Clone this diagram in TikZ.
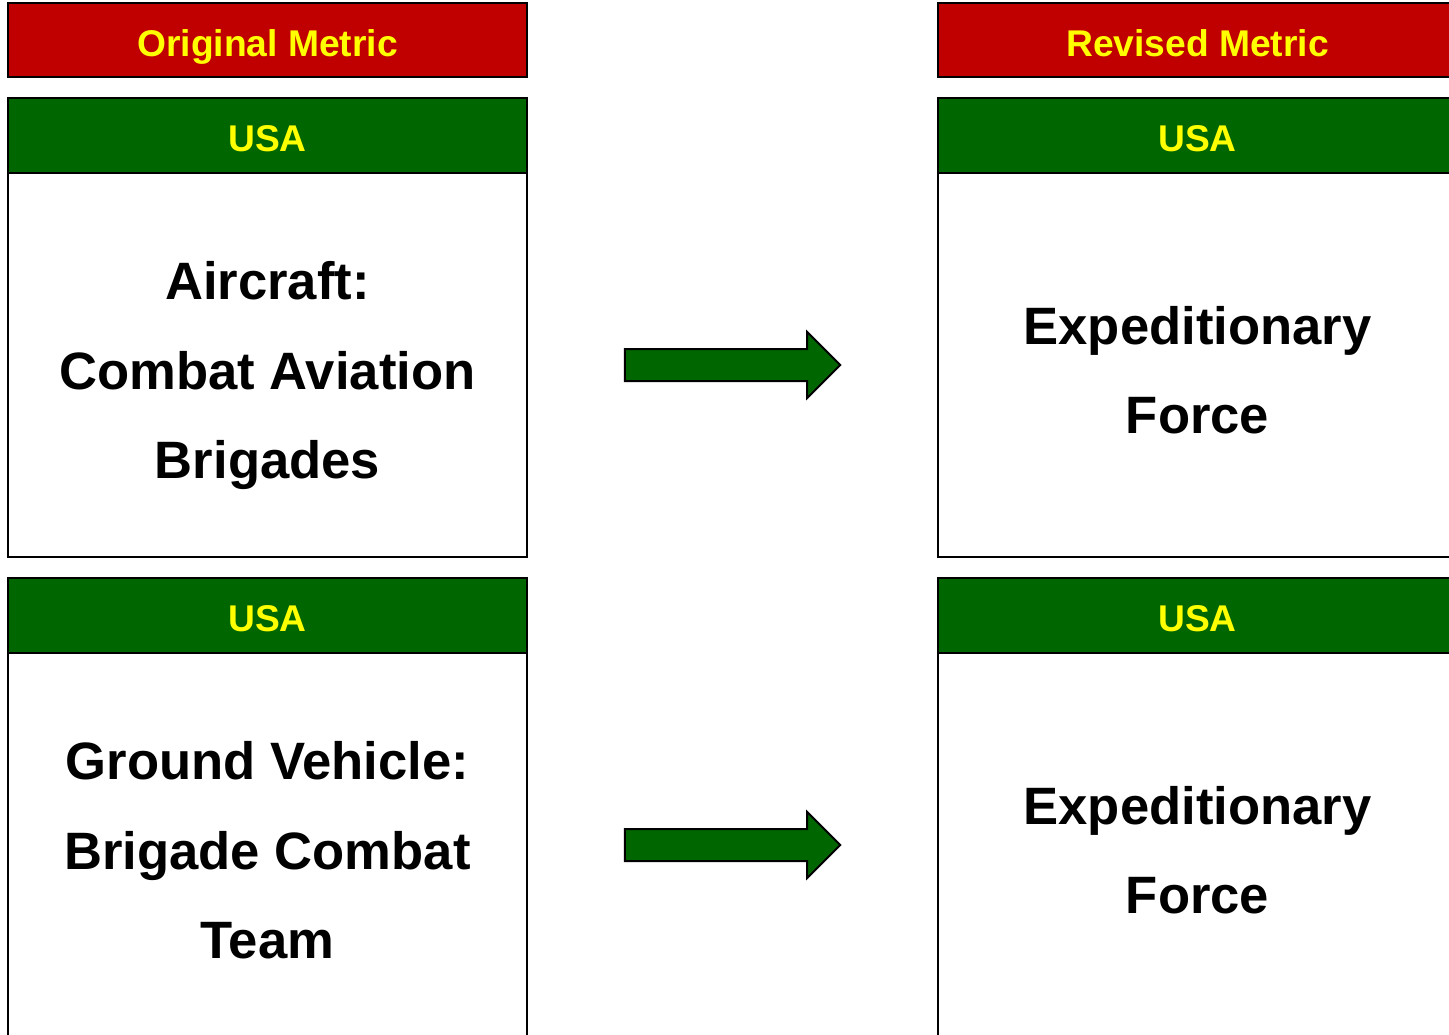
\documentclass[tikz,border=0pt]{standalone}
\usepackage{fontspec}
\setmainfont{Liberation Sans}
\definecolor{MetricRed}{HTML}{C00000}
\definecolor{ForceGreen}{HTML}{006600}
\definecolor{LabelYellow}{HTML}{FFFF00}
\usetikzlibrary{positioning,calc}

\begin{document}
\begin{tikzpicture}[x=0.5pt, y=-0.5pt, node distance=10.5pt, outer sep=0pt,
    headbox/.style={draw, line width=1pt, text=LabelYellow, inner sep=0pt,
      minimum width=259.5pt, minimum height=37pt, text height=16.4pt, text depth=0pt,
      font=\fontsize{18.6}{20}\selectfont\bfseries},
    metric/.style={headbox, fill=MetricRed},
    country/.style={headbox, fill=ForceGreen, minimum height=37.5pt},
    unitbox/.style={draw, line width=1pt, fill=white, inner sep=0pt,
      minimum width=259.5pt, minimum height=192pt},
    unittext/.style={inner sep=0pt, align=center, yshift=-5.5pt,
      execute at begin node=\rule{0pt}{30pt},
      execute at end node=\rule[-6pt]{0pt}{0pt},
      font=\fontsize{26.3}{44.75}\selectfont\bfseries},
    blockarrow/.style={draw, line width=1pt, fill=ForceGreen, line join=miter}]
  \useasboundingbox (0,0) rectangle (1449,1034);
  \clip (0,0) rectangle (1449,1034);
  % left column
  \node[metric, anchor=north west] (orig) at (8,3) {Original Metric};
  \node[country, below=of orig] (ousa1) {USA};
  \node[unitbox, below=0pt of ousa1] (oair) {};
  \node[unittext] (oairtext) at (oair.center) {Aircraft:\\Combat Aviation\\Brigades};
  \node[country, below=of oair] (ousa2) {USA};
  \node[unitbox, below=0pt of ousa2] (oground) {};
  \node[unittext] (ogroundtext) at (oground.center) {Ground Vehicle:\\Brigade Combat\\Team};
  % right column
  \node[metric, right=205.5pt of orig] (rev) {Revised Metric};
  \node[country, below=of rev] (rusa1) {USA};
  \node[unitbox, below=0pt of rusa1] (rair) {};
  \node[unittext] (rairtext) at (rair.center) {Expeditionary\\Force};
  \node[country, below=of rair] (rusa2) {USA};
  \node[unitbox, below=0pt of rusa2] (rground) {};
  \node[unittext] (rgroundtext) at (rground.center) {Expeditionary\\Force};
  % arrows
  \foreach \from/\to in {oair/rair, oground/rground} {
    \coordinate (tail) at ($(\from.east)!0.238!(\to.west)$);
    \coordinate (tip) at ($(\from.east)!0.762!(\to.west)$);
    \draw[blockarrow] ($(tail)+(0,-16)$) -- ($(tip)+(-33,-16)$) -- ($(tip)+(-33,-33)$)
      -- (tip) -- ($(tip)+(-33,33)$) -- ($(tip)+(-33,16)$) -- ($(tail)+(0,16)$) -- cycle;
  }
\end{tikzpicture}
\end{document}
